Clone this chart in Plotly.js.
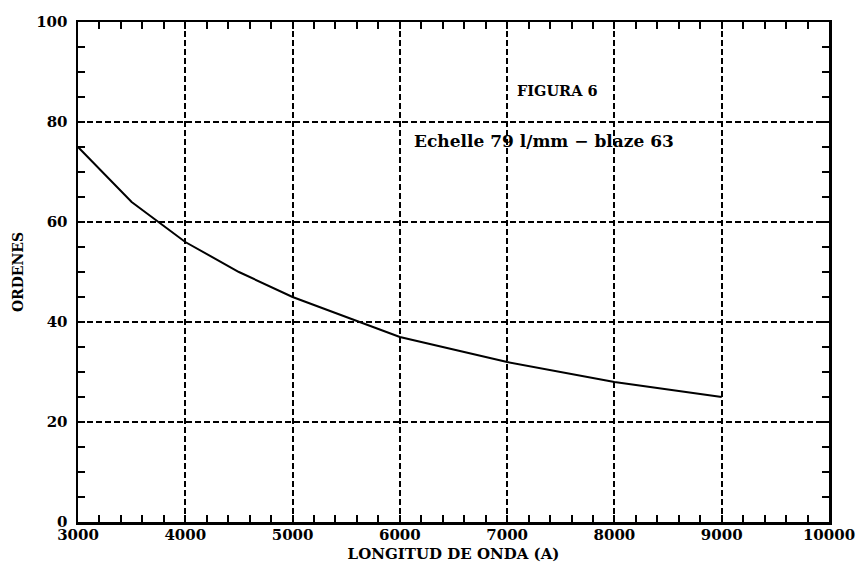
<!DOCTYPE html>
<html><head><meta charset="utf-8">
<script src="https://cdn.plot.ly/plotly-3.0.1.min.js"></script>
<style>html,body{margin:0;padding:0;background:#fff}#plot{width:860px;height:568px}</style>
</head><body><div id="plot"></div>
<script>
const wavelength = [3000, 3500, 4000, 4500, 5000, 5500, 6000, 7000, 8000, 9000];
const orders = [75, 64, 56, 50, 45, 41, 37, 32, 28, 25];
const xTicks = [3000, 4000, 5000, 6000, 7000, 8000, 9000, 10000];
const yTicks = [0, 20, 40, 60, 80, 100];
const figLabel = "FIGURA 6";
const subLabel = "Echelle 79 l/mm \u2212 blaze 63";
const F = "DejaVu Serif";

const axisCommon = {
  showline: true, linecolor: "#000", linewidth: 2.5, mirror: "allticks",
  ticks: "inside", ticklen: 7, tickwidth: 2, tickcolor: "#000",
  showgrid: true, gridcolor: "#000", gridwidth: 2, griddash: "6px,3px",
  zeroline: false,
  tickfont: {family: F, size: 15, color: "#000", weight: "bold"}
};

const trace = {x: wavelength, y: orders, type: "scatter", mode: "lines",
  line: {color: "#000", width: 2}, hoverinfo: "skip"};

const layout = {
  width: 860, height: 568,
  margin: {l: 78, r: 31, t: 22, b: 46},
  paper_bgcolor: "#fff", plot_bgcolor: "#fff",
  showlegend: false,
  xaxis: Object.assign({}, axisCommon, {
    range: [3000, 10000], tickvals: xTicks, ticktext: xTicks.map(String),
    minor: {dtick: 200, tick0: 3000, ticks: "inside", ticklen: 7, tickwidth: 2, tickcolor: "#000", showgrid: false},
    ticklabelstandoff: -3,
    title: {text: "LONGITUD DE ONDA (A)", font: {family: F, size: 15, color: "#000", weight: "bold"}, standoff: 6}
  }),
  yaxis: Object.assign({}, axisCommon, {
    range: [0, 100], tickvals: yTicks, ticktext: yTicks.map(String),
    minor: {dtick: 5, tick0: 0, ticks: "inside", ticklen: 7, tickwidth: 2, tickcolor: "#000", showgrid: false},
    ticklabelstandoff: 5,
    title: {text: "ORDENES", font: {family: F, size: 14, color: "#000", weight: "bold"}, standoff: 10}
  }),
  annotations: [
    {x: 7073, y: 86.4, xref: "x", yref: "y", text: figLabel, showarrow: false, xanchor: "left", yanchor: "middle",
     font: {family: F, size: 14.5, color: "#000", weight: "bold"}},
    {x: 6113, y: 76.2, xref: "x", yref: "y", text: subLabel, showarrow: false, xanchor: "left", yanchor: "middle",
     font: {family: F, size: 17, color: "#000", weight: "bold"}}
  ]
};

Plotly.newPlot("plot", [trace], layout, {staticPlot: true, displayModeBar: false});
</script></body></html>
